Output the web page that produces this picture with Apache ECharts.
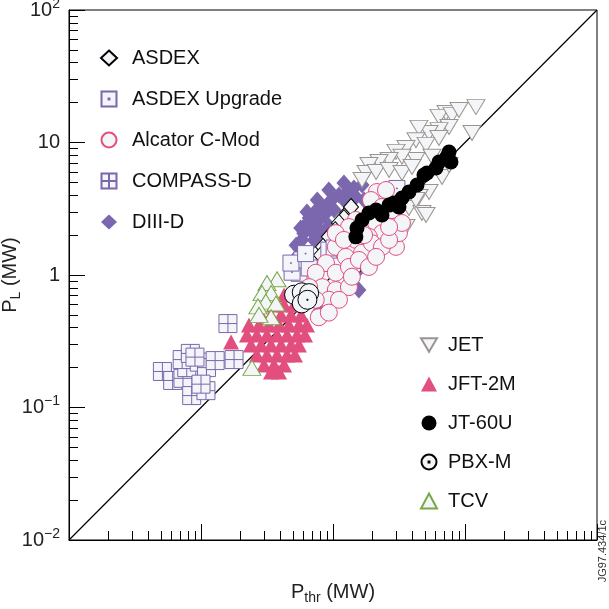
<!DOCTYPE html>
<html>
<head>
<meta charset="utf-8">
<script src="https://cdn.jsdelivr.net/npm/echarts@6/dist/echarts.min.js"></script>
<style>
  html, body { margin: 0; padding: 0; background: #fff; }
  #plot { width: 609px; height: 609px; }
</style>
</head>
<body>
<div id="plot"></div>
<script>
// P_L vs P_thr, both in MW, log-log
var majorTicks = [0.01, 0.1, 1, 10, 100];
var minorTicks = [0.02, 0.03, 0.04, 0.05, 0.06, 0.07, 0.08, 0.09,
                  0.2, 0.3, 0.4, 0.5, 0.6, 0.7, 0.8, 0.9,
                  2, 3, 4, 5, 6, 7, 8, 9,
                  20, 30, 40, 50, 60, 70, 80, 90];
var tickLabels = {0.01: '10{sup|\u22122}', 0.1: '10{sup|\u22121}', 1: '1', 10: '10', 100: '10{sup|2}'};

var unityLine = [[0.01, 0.01], [100, 100]];

var asdex = [[1.28, 2.94], [1.37, 3.26], [1.21, 2.69], [1.11, 2.47], [1.04, 2.18], [0.93, 1.94],
             [0.84, 1.63], [0.81, 1.41], [1.49, 2.38], [1.44, 1.09], [1.15, 1.9]];
var asdexUpgrade = [[0.525, 1.19], [0.553, 1.03], [0.49, 1.05], [0.58, 1.3], [0.48, 1.23], [0.66, 1.13],
                    [0.93, 1.54], [1.02, 1.6], [3.05, 4.5], [0.62, 1.45]];
var alcator = [[2.15, 4.23], [2.52, 4.38], [1.94, 3.68], [1.49, 2.6], [1.32, 2.3], [1.66, 2.3], [2.12, 2.47],
               [2.8, 3.09], [2.35, 2.07], [1.87, 1.94], [1.49, 1.84], [1.05, 1.63], [1.25, 1.37], [1.66, 1.47],
               [1.97, 1.74], [3.0, 1.63], [2.35, 1.63], [0.885, 1.23], [1.05, 1.04], [1.32, 1.15], [1.57, 1.3],
               [0.74, 1.04], [0.83, 0.81], [1.05, 0.77], [1.32, 0.81], [0.93, 0.65], [1.11, 0.65], [0.74, 0.65],
               [0.78, 0.48], [0.93, 0.52], [1.87, 1.15], [2.12, 1.37], [1.39, 0.97], [3.16, 2.07], [3.33, 2.47],
               [2.66, 1.84], [1.05, 2.07], [2.66, 2.3], [2.35, 3.26], [0.66, 0.81], [1.21, 1.84], [1.72, 2.0]];
var compassD = [[0.16, 0.43], [0.051, 0.187], [0.061, 0.16], [0.073, 0.166], [0.078, 0.2], [0.072, 0.23],
                [0.083, 0.256], [0.097, 0.22], [0.11, 0.2], [0.128, 0.226], [0.178, 0.23], [0.085, 0.123],
                [0.109, 0.134], [0.1, 0.15], [0.09, 0.24]];
var diiiD = [[1.66, 4.78], [1.44, 4.53], [1.28, 4.23], [1.11, 4.01], [0.98, 3.68], [0.9, 3.37], [0.78, 3.2],
             [0.72, 2.94], [0.66, 2.69], [0.62, 2.38], [0.6, 2.07], [0.58, 1.84], [0.57, 1.6], [0.55, 1.42],
             [0.68, 2.18], [0.76, 2.51], [0.86, 2.84], [1.02, 3.09], [1.21, 3.68], [1.49, 3.88], [0.72, 1.84],
             [0.81, 2.11], [0.93, 2.34], [0.78, 0.526], [0.87, 0.59], [1.49, 1.04], [1.57, 0.77], [1.72, 3.68],
             [0.525, 1.68], [0.57, 2.26], [0.635, 2.99], [0.76, 3.68], [0.93, 4.38], [1.21, 4.95]];
var jet = [[12.1, 18.5], [7.18, 16.7], [6.35, 15.6], [7.97, 16.1], [9.0, 17.6], [11.3, 11.8], [7.57, 13.1],
           [6.35, 12.4], [5.34, 11.8], [4.48, 12.9], [4.25, 10.4], [3.57, 9.1], [3.0, 8.5], [5.07, 9.6],
           [6.35, 10.8], [5.62, 7.8], [4.25, 7.38], [3.33, 7.8], [2.66, 7.38], [2.23, 7.13], [1.87, 6.77],
           [1.78, 5.89], [2.12, 5.99], [2.66, 6.2], [3.33, 5.89], [3.97, 6.53], [5.34, 4.23], [4.48, 3.88],
           [3.76, 3.2], [4.72, 2.94], [6.7, 5.49], [7.57, 6.77], [5.07, 2.84], [3.57, 2.3], [1.66, 5.21],
           [2.35, 3.88], [4.25, 3.68]];
var jft2m = [[0.426, 0.706], [0.507, 0.706],
             [0.357, 0.594], [0.426, 0.594], [0.507, 0.594],
             [0.285, 0.499], [0.339, 0.499], [0.404, 0.499], [0.481, 0.499], [0.573, 0.499],
             [0.231, 0.42], [0.275, 0.42], [0.327, 0.42], [0.39, 0.42], [0.464, 0.42], [0.552, 0.42], [0.635, 0.42],
             [0.223, 0.352], [0.265, 0.352], [0.316, 0.352], [0.377, 0.352], [0.449, 0.352], [0.534, 0.352], [0.614, 0.352],
             [0.239, 0.296], [0.285, 0.296], [0.339, 0.296], [0.404, 0.296], [0.481, 0.296], [0.552, 0.296],
             [0.265, 0.249], [0.316, 0.249], [0.377, 0.249], [0.449, 0.249], [0.515, 0.249],
             [0.3, 0.209], [0.357, 0.209], [0.426, 0.209],
             [0.339, 0.185], [0.39, 0.185],
             [0.169, 0.312]];
var jt60u = [[1.49, 1.94], [1.52, 2.26], [1.66, 2.6], [1.87, 2.94], [2.12, 3.09], [2.35, 2.84], [2.66, 3.37],
             [2.9, 3.5], [3.16, 3.26], [3.33, 3.81], [3.76, 4.23], [4.33, 4.78], [4.89, 5.69], [5.15, 5.89],
             [6.03, 6.42], [6.35, 7.13], [7.3, 7.8], [7.83, 7.13], [7.57, 8.48]];
var pbxm = [[0.507, 0.71], [0.58, 0.74], [0.66, 0.73], [0.58, 0.61], [0.64, 0.65]];
var tcv = [[0.377, 0.93], [0.316, 0.87], [0.29, 0.73], [0.34, 0.73], [0.31, 0.63], [0.37, 0.61],
           [0.27, 0.58], [0.34, 0.48], [0.275, 0.5], [0.243, 0.199]];

var FONT = "'Liberation Sans', Arial, sans-serif";
var LIGHT = '#f4f5f8';
var PURPLE = '#7a67ae';
var PINK = '#e24f7e';

var SQ_DOT = 'path://M0,0H20V20H0Z M9.4,9.4H10.6V10.6H9.4Z';
var SQ_GRID = 'path://M0,0H20V20H0Z M10,0V20 M0,10H20';
var CIRC_DOT = 'path://M10,0A10,10,0,1,1,10,20A10,10,0,1,1,10,0Z M9.4,9.4H10.6V10.6H9.4Z';
var TRI_DOWN = 'path://M0,0H20L10,17Z';

function scatter(name, data, symbol, size, fill, stroke, z) {
    return {
        name: name,
        type: 'scatter',
        data: data,
        symbol: symbol,
        symbolSize: size,
        z: z,
        itemStyle: {
            color: fill,
            borderColor: stroke || fill,
            borderWidth: stroke ? 1 : 0,
            opacity: 1
        },
        emphasis: { disabled: true }
    };
}

var plot = echarts.init(document.getElementById('plot'));

var axisBase = {
    type: 'log',
    logBase: 10,
    min: 0.01,
    max: 100,
    splitLine: { show: false },
    axisLine: { lineStyle: { color: '#000', width: 1 } }
};

var option = {
    animation: false,
    backgroundColor: '#fff',
    grid: {
        left: 69, right: 12, top: 10, bottom: 69,
        containLabel: false, outerBoundsMode: 'none',
        show: true, borderColor: '#000', borderWidth: 1
    },
    legend: [{
        orient: 'vertical',
        left: 95,
        top: 43,
        itemWidth: 16,
        itemHeight: 15,
        itemGap: 21,
        selectedMode: false,
        textStyle: { fontFamily: FONT, fontSize: 20, color: '#111', lineHeight: 20, padding: [0, 0, 0, 10] },
        data: ['ASDEX', 'ASDEX Upgrade', 'Alcator C-Mod', 'COMPASS-D', 'DIII-D']
    }, {
        orient: 'vertical',
        left: 415,
        top: 330,
        itemWidth: 16,
        itemHeight: 15,
        itemGap: 19,
        selectedMode: false,
        textStyle: { fontFamily: FONT, fontSize: 20, color: '#111', lineHeight: 20, padding: [0, 0, 0, 6] },
        data: ['JET', 'JFT-2M', 'JT-60U', 'PBX-M', 'TCV']
    }],
    xAxis: [Object.assign({}, axisBase, {
        position: 'bottom',
        axisTick: { inside: true, length: 16, customValues: majorTicks, lineStyle: { color: '#000' } },
        axisLabel: { show: false },
        name: '{n|P}{sub|thr}{n| (MW)}',
        nameLocation: 'middle',
        nameGap: 39,
        nameTextStyle: {
            rich: {
                n: { fontFamily: FONT, fontSize: 20, color: '#222' },
                sub: { fontFamily: FONT, fontSize: 14, color: '#222', padding: [12, 0, 0, 0] }
            }
        }
    }), Object.assign({}, axisBase, {
        position: 'bottom',
        offset: 0,
        axisLine: { show: false },
        axisTick: { inside: true, length: 9, customValues: minorTicks, lineStyle: { color: '#000' } },
        axisLabel: { show: false }
    })],
    yAxis: [Object.assign({}, axisBase, {
        position: 'left',
        axisTick: { inside: true, length: 16, customValues: majorTicks, lineStyle: { color: '#000' } },
        axisLabel: {
            customValues: majorTicks,
            margin: 9,
            fontFamily: FONT,
            fontSize: 20,
            color: '#222',
            formatter: function (v) { return tickLabels[v]; },
            rich: {
                sup: { fontFamily: FONT, fontSize: 14, color: '#222', padding: [0, 0, 12, 0] }
            }
        },
        name: '{n|P}{sub|L}{n| (MW)}',
        nameLocation: 'middle',
        nameGap: 46,
        nameRotate: 90,
        nameMoveOverlap: false,
        nameTextStyle: {
            rich: {
                n: { fontFamily: FONT, fontSize: 20, color: '#222' },
                sub: { fontFamily: FONT, fontSize: 14, color: '#222', padding: [12, 0, 0, 0] }
            }
        }
    }), Object.assign({}, axisBase, {
        position: 'left',
        offset: 0,
        axisLine: { show: false },
        axisTick: { inside: true, length: 9, customValues: minorTicks, lineStyle: { color: '#000' } },
        axisLabel: { show: false }
    })],
    graphic: [{
        type: 'text',
        left: 597,
        top: 520,
        rotation: Math.PI / 2,
        style: { text: 'JG97.434/1c', fontFamily: FONT, fontSize: 11, fill: '#333' }
    }],
    series: [
        {
            name: 'unity',
            type: 'line',
            data: unityLine,
            symbol: 'none',
            silent: true,
            z: 1,
            lineStyle: { color: '#000', width: 1.2 }
        },
        scatter('DIII-D', diiiD, 'diamond', [15, 17], PURPLE, null, 2),
        scatter('ASDEX', asdex, 'diamond', [15, 17], LIGHT, '#000', 3),
        scatter('ASDEX Upgrade', asdexUpgrade, SQ_DOT, 16, LIGHT, PURPLE, 4),
        scatter('JET', jet, TRI_DOWN, [18, 15], LIGHT, '#9a9590', 5),
        scatter('Alcator C-Mod', alcator, 'circle', 17, LIGHT, PINK, 6),
        scatter('JFT-2M', jft2m, 'triangle', [16, 15], PINK, null, 7),
        scatter('TCV', tcv, 'triangle', [18, 15], LIGHT, '#78a845', 8),
        scatter('PBX-M', pbxm, CIRC_DOT, 19, LIGHT, '#000', 9),
        scatter('JT-60U', jt60u, 'circle', 15, '#000', null, 10),
        scatter('COMPASS-D', compassD, SQ_GRID, 18, LIGHT, PURPLE, 11)
    ]
};

if (option && typeof option === "object") {
    plot.setOption(option, true);
}
</script>
</body>
</html>
